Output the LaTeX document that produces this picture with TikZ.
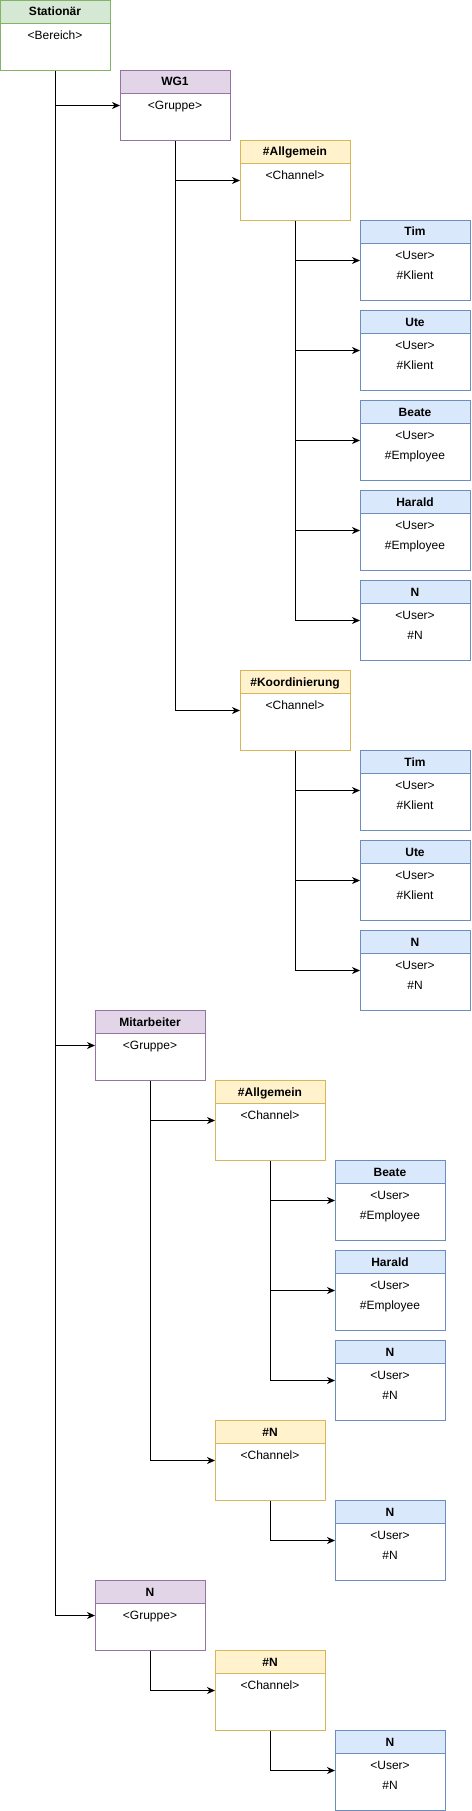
\documentclass[tikz,border=0pt]{standalone}
\usepackage{fontspec}
\setmainfont{Liberation Sans}
\usetikzlibrary{arrows.meta,calc}
\definecolor{gF}{HTML}{D5E8D4}\definecolor{gD}{HTML}{82B366}
\definecolor{pF}{HTML}{E1D5E7}\definecolor{pD}{HTML}{9673A6}
\definecolor{yF}{HTML}{FFF2CC}\definecolor{yD}{HTML}{D6B656}
\definecolor{bF}{HTML}{DAE8FC}\definecolor{bD}{HTML}{6C8EBF}
\tikzset{
  frame/.style={draw=#1, line width=1pt, minimum width=110pt, inner sep=0pt, anchor=north west, fill=white},
  lbl/.style={anchor=base, inner sep=0pt, font=\fontsize{12}{14}\selectfont},
  ttl/.style={anchor=base, inner sep=0pt, font=\fontsize{12}{14}\selectfont\bfseries},
  conn/.style={draw=black, line width=1pt, -{Stealth[length=8pt,width=7pt,inset=2.5pt]}},
}
\newcommand{\ubox}[8]{%
  \node[frame=#5D, minimum height=#4pt] (#1) at (#2,#3) {};
  \node[frame=#5D, fill=#5F, minimum height=23pt] (#1-h) at (#2,#3) {};
  \node[ttl] (#1-t) at (#2+55,#3+16) {#6};
  \node[lbl] (#1-a) at (#2+55,#3+39.5) {#7};
  \node[lbl] (#1-b) at (#2+55,#3+59.5) {#8};
}
\begin{document}
\begin{tikzpicture}[x=1pt,y=-1pt]
\useasboundingbox (0,0) rectangle (471,1811);
\ubox{S}{0}{0}{70}{g}{Stationär}{<Bereich>}{}
\ubox{W}{120}{70}{70}{p}{WG1}{<Gruppe>}{}
\ubox{A1}{240}{140}{80}{y}{\#Allgemein}{<Channel>}{}
\ubox{u1}{360}{220}{80}{b}{Tim}{<User>}{\#Klient}
\ubox{u2}{360}{310}{80}{b}{Ute}{<User>}{\#Klient}
\ubox{u3}{360}{400}{80}{b}{Beate}{<User>}{\#Employee}
\ubox{u4}{360}{490}{80}{b}{Harald}{<User>}{\#Employee}
\ubox{u5}{360}{580}{80}{b}{N}{<User>}{\#N}
\ubox{K}{240}{670}{80}{y}{\#Koordinierung}{<Channel>}{}
\ubox{u6}{360}{750}{80}{b}{Tim}{<User>}{\#Klient}
\ubox{u7}{360}{840}{80}{b}{Ute}{<User>}{\#Klient}
\ubox{u8}{360}{930}{80}{b}{N}{<User>}{\#N}
\ubox{M}{95}{1010}{70}{p}{Mitarbeiter}{<Gruppe>}{}
\ubox{A2}{215}{1080}{80}{y}{\#Allgemein}{<Channel>}{}
\ubox{u9}{335}{1160}{80}{b}{Beate}{<User>}{\#Employee}
\ubox{u10}{335}{1250}{80}{b}{Harald}{<User>}{\#Employee}
\ubox{u11}{335}{1340}{80}{b}{N}{<User>}{\#N}
\ubox{C}{215}{1420}{80}{y}{\#N}{<Channel>}{}
\ubox{u12}{335}{1500}{80}{b}{N}{<User>}{\#N}
\ubox{G}{95}{1580}{70}{p}{N}{<Gruppe>}{}
\ubox{C2}{215}{1650}{80}{y}{\#N}{<Channel>}{}
\ubox{u13}{335}{1730}{80}{b}{N}{<User>}{\#N}
\foreach \p/\c in {S/W,S/M,S/G,W/A1,W/K,A1/u1,A1/u2,A1/u3,A1/u4,A1/u5,K/u6,K/u7,K/u8,M/A2,M/C,A2/u9,A2/u10,A2/u11,C/u12,G/C2,C2/u13}
  \draw[conn] (\p.south) |- (\c.west);
\end{tikzpicture}
\end{document}
